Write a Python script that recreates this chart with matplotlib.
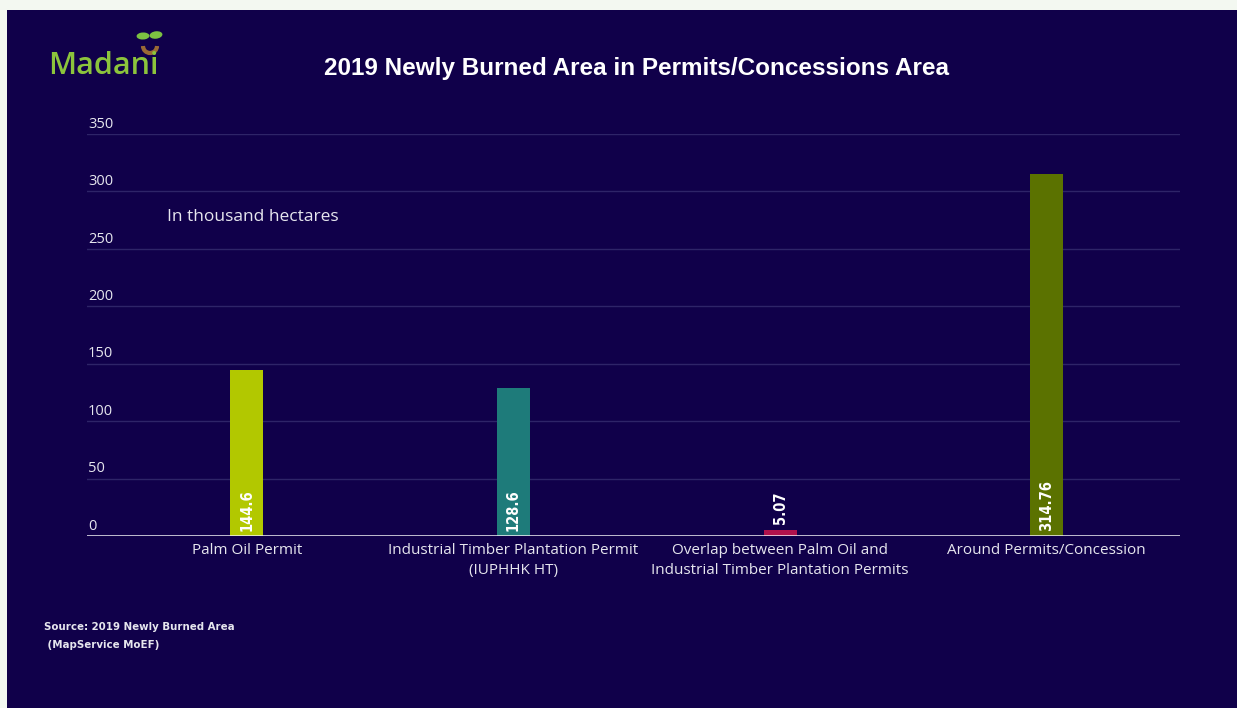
import matplotlib
matplotlib.use("Agg")
import matplotlib.pyplot as plt
from matplotlib.patches import Rectangle, Ellipse, Arc
from matplotlib.transforms import blended_transform_factory

categories = [
    "Palm Oil Permit",
    "Industrial Timber Plantation Permit\n(IUPHHK HT)",
    "Overlap between Palm Oil and\nIndustrial Timber Plantation Permits",
    "Around Permits/Concession",
]
values = [144.6, 128.6, 5.07, 314.76]
value_labels = ["144.6", "128.6", "5.07", "314.76"]
bar_colors = ["#b2c800", "#1e7b7a", "#b0124c", "#5b7200"]
y_ticks = [0, 50, 100, 150, 200, 250, 300, 350]

BG = "#10004a"
GRID = "#2e2468"
TEXT = "#e6e6ee"
NARROW = ["DejaVu Sans"]

fig = plt.figure(figsize=(12.37, 7.08), dpi=100, facecolor="#f3f8f1")
fig.patches.append(Rectangle((7 / 1237, 0), 1, 1 - 10 / 708, transform=fig.transFigure,
                             facecolor=BG, edgecolor="none", zorder=-5))

ax = fig.add_axes([87 / 1237, 1 - 536 / 708, (1180 - 87) / 1237, (536 - 134) / 708])
ax.set_zorder(2)
ax.set_facecolor("none")
ax.set_xlim(-0.6, 3.5)
ax.set_ylim(0, 350)
for s in ax.spines.values():
    s.set_visible(False)
ax.set_xticks([])
ax.set_yticks([])

# gridlines and y labels sitting above each line
trans = blended_transform_factory(ax.transAxes, ax.transData)
for t in y_ticks[1:]:
    ax.axhline(t, color=GRID, lw=1, zorder=1)
for t in y_ticks:
    ax.text(0.001, t + 2, str(t), transform=trans, ha="left", va="bottom",
            fontsize=10.5, color=TEXT, family="Open Sans")
ax.axhline(0, color="#f4f4f8", lw=1.8, zorder=3)

x = list(range(len(categories)))
ax.bar(x, values, width=0.124, color=bar_colors, zorder=2)

for xi, v, lab in zip(x, values, value_labels):
    y = 4 if v > 40 else v + 5
    ax.text(xi, y, lab, rotation=90, ha="center", va="bottom", fontsize=10.5,
            fontweight="bold", color="white", zorder=4,
            family=NARROW, fontstretch="condensed")

for xi, c in zip(x, categories):
    ax.text(xi, -6.5, c, ha="center", va="top", fontsize=11, color=TEXT,
            family="Open Sans", linespacing=1.45)

ax.text(-0.3, 278, "In thousand hectares", ha="left", va="center", fontsize=12.5,
        color=TEXT, family="Open Sans")

fig.text(637 / 1237, 1 - 68 / 708, "2019 Newly Burned Area in Permits/Concessions Area",
         ha="center", va="center", fontsize=17.5, fontweight="bold", color="white",
         family="Liberation Sans")

fig.text(44 / 1237, 1 - 636 / 708, "Source: 2019 Newly Burned Area\n (MapService MoEF)",
         ha="left", va="center", fontsize=8.2, fontweight="bold", color=TEXT,
         family=NARROW, fontstretch="condensed", linespacing=2.0)

# logo
fig.text(48 / 1237, 1 - 66 / 708, "Madani", ha="left", va="center", fontsize=22,
         fontweight="semibold", color="#8cc43c", family="Open Sans")
fig.patches.append(Arc((150 / 1237, 1 - 46 / 708), 14 / 1237, 14 / 708, theta1=180,
                       theta2=360, transform=fig.transFigure, edgecolor="#9a6a35", lw=3))
fig.patches.append(Ellipse((143 / 1237, 1 - 36 / 708), 13 / 1237, 7 / 708, angle=25,
                           transform=fig.transFigure, facecolor="#7cc142",
                           edgecolor="none"))
fig.patches.append(Ellipse((156 / 1237, 1 - 35 / 708), 12 / 1237, 8 / 708, angle=-40,
                           transform=fig.transFigure, facecolor="#7cc142",
                           edgecolor="none"))

fig.savefig("out.png", dpi=100, facecolor=fig.get_facecolor())
